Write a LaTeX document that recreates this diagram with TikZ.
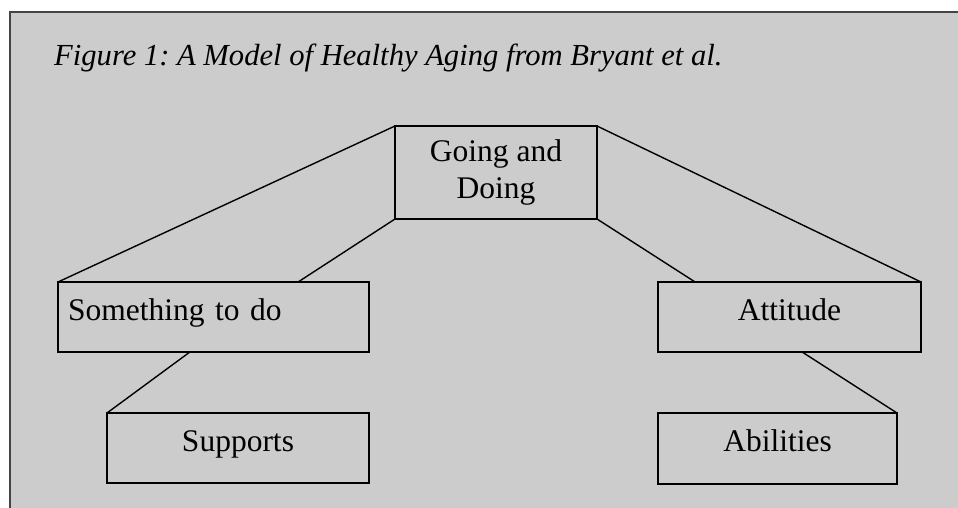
\documentclass[tikz,border=0pt]{standalone}
\usepackage{fontspec}
\setmainfont{Liberation Serif}
\usetikzlibrary{calc}
\definecolor{bgray}{HTML}{CCCCCC}
\definecolor{framegray}{HTML}{444444}
\tikzset{
  boxnode/.style={draw=black, fill=bgray, line width=2pt, outer sep=0pt, inner sep=0pt,
    font=\fontsize{31.5}{37}\selectfont, align=center},
  onel/.style={text height=22pt, text depth=16pt},
  conn/.style={draw=black, line width=1.4pt}
}
\frenchspacing
\begin{document}
\begin{tikzpicture}[x=1pt,y=-1pt]
\useasboundingbox (0,0) rectangle (958,508);
\clip (0,0) rectangle (958,508);
\fill[white] (0,0) rectangle (958,508);
\draw[fill=bgray, draw=framegray, line width=2pt] (10,12) rectangle (975,525);

\node[anchor=base west, inner sep=0pt, font=\itshape\fontsize{30.6}{37}\selectfont\frenchspacing] (title) at (54,66)
  {Figure 1: A Model of Healthy Aging from Bryant et al.};

\node[boxnode, minimum width=202pt, minimum height=93pt] (going) at (496,172.5) {Going and\\Doing};
\node[boxnode, onel, text width=291pt, inner xsep=10pt, align=left, minimum height=70pt] (something) at (213.5,317) {Something to do};
\node[boxnode, onel, minimum width=262pt, minimum height=70pt] (supports) at (238,448) {Supports};
\node[boxnode, onel, minimum width=263pt, minimum height=70pt] (attitude) at (789.5,317) {Attitude};
\node[boxnode, onel, minimum width=239pt, minimum height=71pt] (abilities) at (777.5,448.5) {Abilities};

\draw[conn] (going.north west) -- (something.north west);
\draw[conn] (going.south west) -- ($(something.north west)!0.772!(something.north east)$);
\draw[conn] (going.north east) -- (attitude.north east);
\draw[conn] (going.south east) -- ($(attitude.north west)!0.141!(attitude.north east)$);
\draw[conn] ($(something.south west)!0.424!(something.south east)$) -- (supports.north west);
\draw[conn] ($(attitude.south west)!0.548!(attitude.south east)$) -- (abilities.north east);
\end{tikzpicture}
\end{document}
